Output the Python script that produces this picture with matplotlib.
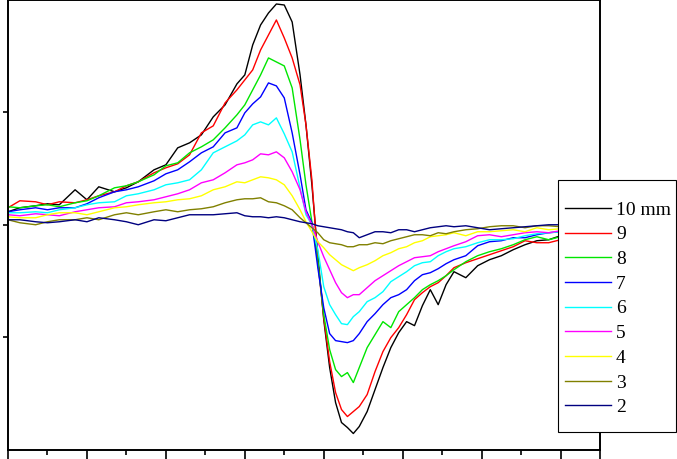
import matplotlib
matplotlib.use("Agg")
import matplotlib.pyplot as plt
from matplotlib.patches import Rectangle

# sample positions along the field axis (arbitrary units, 0..150)
field = [0, 3, 7, 10, 13, 17, 20, 23, 27, 30, 33, 37, 40, 43, 46, 49, 52, 55, 58, 60,
         62, 64, 66, 68, 70, 72, 74, 75.5, 77, 78.5, 80, 81.5, 83, 84.5, 86, 87.5, 89, 91, 93, 95,
         97, 99, 101, 103, 105, 107, 109, 111, 113, 116, 119, 122, 125, 128, 131, 134, 137, 140, 143, 146, 150]

# signal (arbitrary units) for each thickness
s10 = [13, 17, 19, 21, 20, 35, 25, 38, 33, 37, 43, 55, 60, 77, 82, 90, 108, 120, 141, 150,
       180, 200, 212, 221, 220, 203, 150, 100, 40, -30, -95, -143, -178, -198, -203, -209, -202, -187, -165, -143,
       -123, -108, -97, -101, -81, -65, -80, -60, -47, -53, -41, -35, -31, -25, -20, -16, -15, -11, -8, -5, -3]
s9 = [17, 24, 23, 20, 23, 22, 25, 29, 33, 39, 43, 52, 57, 61, 70, 92, 99, 122, 135, 145,
      155, 175, 190, 205, 187, 167, 140, 100, 45, -37, -93, -137, -168, -185, -192, -187, -182, -170, -147, -127,
      -113, -103, -90, -75, -68, -62, -58, -51, -43, -38, -34, -30, -26, -22, -16, -18, -18, -15, -11, -7, -4]
s8 = [18, 17, 19, 20, 18, 22, 24, 29, 37, 39, 43, 50, 59, 62, 72, 78, 85, 97, 110, 120,
      135, 150, 167, 163, 159, 137, 85, 40, 3, -37, -90, -125, -145, -152, -148, -158, -143, -123, -110, -97,
      -103, -87, -80, -73, -65, -60, -56, -51, -45, -37, -31, -27, -24, -20, -15, -12, -15, -12, -9, -6, -3]
s7 = [13, 15, 17, 15, 17, 17, 21, 27, 33, 35, 38, 44, 51, 55, 63, 72, 78, 92, 97, 112,
      121, 128, 142, 139, 127, 92, 50, 15, 2, -43, -83, -109, -116, -117, -118, -116, -109, -97, -89, -80,
      -73, -70, -65, -56, -50, -48, -44, -39, -35, -31, -21, -17, -16, -13, -13, -10, -8, -7, -5, -3, -1]
s6 = [12, 12, 13, 12, 15, 17, 20, 22, 23, 29, 31, 35, 40, 42, 45, 55, 72, 78, 84, 90,
      100, 103, 100, 107, 91, 73, 37, 10, 0, -25, -62, -80, -90, -99, -100, -92, -87, -77, -73, -67,
      -57, -52, -47, -41, -38, -37, -31, -27, -24, -22, -18, -15, -15, -14, -11, -9, -8, -7, -5, -3, -1]
s5 = [10, 9, 11, 10, 9, 13, 15, 17, 18, 22, 23, 25, 28, 31, 35, 42, 45, 52, 60, 62,
      65, 71, 70, 73, 67, 53, 35, 13, 0, -17, -32, -45, -58, -68, -73, -70, -70, -63, -56, -51,
      -46, -41, -37, -33, -32, -31, -27, -24, -21, -17, -11, -10, -12, -10, -8, -7, -8, -6, -4, -3, -1]
s4 = [8, 7, 7, 10, 12, 12, 10, 13, 17, 18, 20, 22, 23, 25, 26, 29, 35, 38, 43, 42,
      45, 48, 47, 45, 40, 29, 15, 3, -7, -17, -23, -30, -35, -40, -43, -46, -43, -40, -36, -31,
      -28, -24, -22, -18, -16, -12, -11, -10, -8, -11, -7, -7, -6, -5, -7, -3, -5, -4, -3, -2, -1]
s3 = [5, 2, 0, 3, 5, 5, 7, 5, 10, 12, 10, 13, 15, 13, 15, 16, 18, 22, 25, 26,
      26, 27, 23, 22, 19, 15, 7, 2, -3, -8, -15, -18, -19, -20, -22, -22, -20, -20, -18, -19,
      -16, -14, -12, -10, -10, -11, -8, -9, -7, -5, -4, -2, -1, -1, -3, -1, -1, -2, -1, -1, 0]
s2 = [5, 5, 3, 2, 3, 5, 3, 7, 5, 3, 0, 5, 4, 7, 10, 10, 10, 11, 12, 9,
      8, 8, 7, 8, 7, 5, 3, 2, 1, -1, -2, -3, -4, -5, -7, -8, -13, -10, -7, -7,
      -8, -5, -5, -7, -5, -3, -2, -1, -2, -1, -3, -5, -4, -3, -2, -1, 0, 0, 0, 0, 0]

series = [s10, s9, s8, s7, s6, s5, s4, s3, s2]
labels = ["10 mm", "9", "8", "7", "6", "5", "4", "3", "2"]
colors = ["#000000", "#ff0000", "#00e600", "#0000ff", "#00ffff",
          "#ff00ff", "#ffff00", "#808000", "#000080"]

W, H = 677, 459
fig = plt.figure(figsize=(W / 100, H / 100), dpi=100)
ax = fig.add_axes([8 / W, 9.5 / H, 592 / W, 449.5 / H])

handles = []
for ys, c, lab in zip(series, colors, labels):
    ln, = ax.plot(field, ys, color=c, lw=1.0, label=lab)
    handles.append(ln)

ax.set_xlim(0, 150)
ax.set_ylim(-225, 225)
ax.set_xticks([0, 20, 40, 60, 80, 100, 120, 140, 150])
ax.set_xticks([10, 30, 50, 70, 90, 110, 130], minor=True)
ax.set_yticks([-112.5, 0, 112.5])
ax.tick_params(axis='x', which='major', direction='out', length=9, width=1.2,
               labelbottom=False)
ax.tick_params(axis='x', which='minor', direction='out', length=3.6, width=1.2)
ax.tick_params(axis='y', which='major', direction='out', length=3.6, width=1.2,
               labelleft=False)
for side in ['left', 'bottom', 'right', 'top']:
    ax.spines[side].set_linewidth(1.4)
    ax.spines[side].set_color('black')

# legend box
box = Rectangle((558 / W, 1 - 432 / H), 118 / W, 252 / H, transform=fig.transFigure,
                facecolor='white', edgecolor='black', lw=0.8, zorder=3)
fig.add_artist(box)

fs = 14
em = fs * 100 / 72
fig.legend(handles, labels, loc='upper left',
           bbox_to_anchor=(565 / W, 1 - 201 / H), bbox_transform=fig.transFigure,
           frameon=False, borderpad=0, borderaxespad=0,
           handlelength=46 / em, handletextpad=5 / em, labelspacing=0.365,
           prop={'family': 'Liberation Serif', 'size': fs})

fig.savefig("out.png", dpi=100)
